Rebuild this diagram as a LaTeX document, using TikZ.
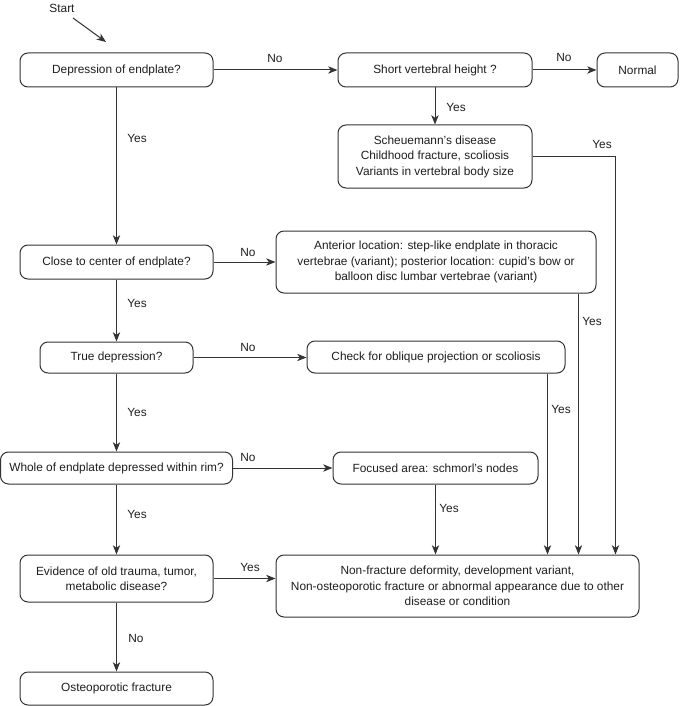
\documentclass[tikz,border=0pt]{standalone}
\usepackage{fontspec}
\setmainfont{Liberation Sans}
\usetikzlibrary{arrows.meta}
\definecolor{lc}{HTML}{333333}
\definecolor{tc}{HTML}{1E1E1E}
\newcommand{\fs}{\fontsize{8.9}{11.6}\selectfont}
\begin{document}
\begin{tikzpicture}[x=0.75pt,y=-0.75pt,
  box/.style={draw=lc, rounded corners=6pt, line width=0.75pt, align=center, inner sep=0pt, font=\fs, text=tc},
  arr/.style={draw=lc, line width=0.75pt, -{Stealth[length=7pt,width=5.5pt,inset=2pt]}},
  lbl/.style={font=\fs, text=tc, inner sep=0pt}]
\useasboundingbox (0,0) rectangle (680,706);

\node[lbl] (start) at (62,8) {Start};
\coordinate (s0) at (73,18);
\coordinate (s1) at (106,42);
\draw[arr] (s0) -- (s1);

\node[box, minimum width=144.75pt, minimum height=25.5pt] (d1) at (116.5,70) {Depression of endplate?};
\node[box, minimum width=145.5pt, minimum height=25.5pt] (short) at (435,70) {Short vertebral height ?};
\node[box, minimum width=60.75pt, minimum height=25.5pt] (normal) at (637.5,70) {Normal};
\node[box, minimum width=145.5pt, minimum height=47.25pt] (sch) at (435,156.5) {Scheuemann's disease\\Childhood fracture, scoliosis\\Variants in vertebral body size};
\node[box, minimum width=144.75pt, minimum height=25.5pt] (d2) at (116.5,262) {Close to center of endplate?};
\node[box, minimum width=240pt, minimum height=46.5pt] (ant) at (436,262) {Anterior location: step-like endplate in thoracic\\vertebrae (variant); posterior location: cupid's bow or\\balloon disc lumbar vertebrae (variant)};
\node[box, minimum width=114.75pt, minimum height=23.25pt] (d3) at (116.5,357.5) {True depression?};
\node[box, minimum width=193.5pt, minimum height=24pt] (check) at (436,357) {Check for oblique projection or scoliosis};
\node[box, minimum width=174pt, minimum height=24pt] (d4) at (116.5,468) {Whole of endplate depressed within rim?};
\node[box, minimum width=153.75pt, minimum height=24pt] (focused) at (435.5,468) {Focused area: schmorl's nodes};
\node[box, minimum width=144.75pt, minimum height=35.25pt] (d5) at (116.5,578.5) {Evidence of old trauma, tumor,\\metabolic disease?};
\node[box, minimum width=272.25pt, minimum height=46.5pt] (nf) at (457.5,586) {Non-fracture deformity, development variant,\\Non-osteoporotic fracture or abnormal appearance due to other\\disease or condition};
\node[box, minimum width=144.75pt, minimum height=24.75pt] (osteo) at (116.5,688.5) {Osteoporotic fracture};

\draw[arr] (d1) -- (short);
\draw[arr] (short) -- (normal);
\draw[arr] (short) -- (sch);
\draw[arr] (d1) -- (d2);
\draw[arr] (d2) -- (ant);
\draw[arr] (d2) -- (d3);
\draw[arr] (d3) -- (d3 -| check.west);
\draw[arr] (d3) -- (d4);
\draw[arr] (d4) -- (focused);
\draw[arr] (d4) -- (d5);
\draw[arr] (d5) -- (d5 -| nf.west);
\draw[arr] (d5) -- (osteo);
\draw[arr] (focused) -- (focused |- nf.north);
\draw[arr] ([xshift=-13.5pt]check.south east) coordinate (cA) -- (cA |- nf.north);
\draw[arr] ([xshift=-13.5pt]ant.south east) coordinate (cB) -- (cB |- nf.north);
\draw[arr] (sch.east) -| ([xshift=-18pt]nf.north east);

\node[lbl] (l1) at (275,58) {No};
\node[lbl] (l2) at (564,57) {No};
\node[lbl] (l3) at (456,107) {Yes};
\node[lbl] (l4) at (602,144) {Yes};
\node[lbl] (l5) at (137,138) {Yes};
\node[lbl] (l6) at (248,252) {No};
\node[lbl] (l7) at (592,321) {Yes};
\node[lbl] (l8) at (137,303) {Yes};
\node[lbl] (l9) at (248,347) {No};
\node[lbl] (l10) at (561,409) {Yes};
\node[lbl] (l11) at (137,412) {Yes};
\node[lbl] (l12) at (248,457) {No};
\node[lbl] (l13) at (449,508) {Yes};
\node[lbl] (l14) at (137,514) {Yes};
\node[lbl] (l15) at (250,567) {Yes};
\node[lbl] (l16) at (136,638) {No};
\end{tikzpicture}
\end{document}
